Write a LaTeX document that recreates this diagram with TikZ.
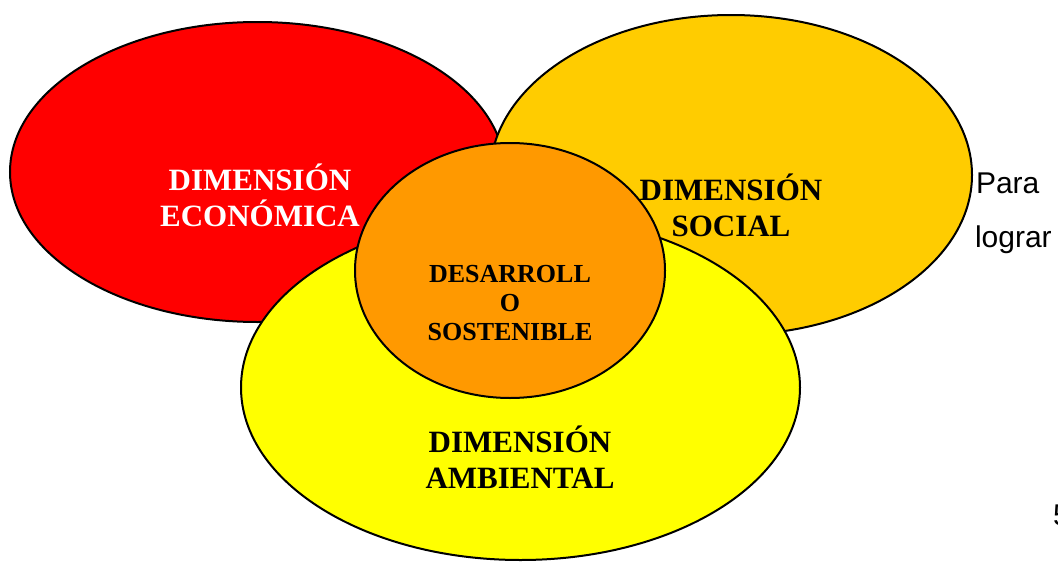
\documentclass[tikz,border=0pt]{standalone}
\usepackage{fontspec}
\setmainfont{Liberation Serif}
\newfontfamily\parafont{Liberation Sans}
\usepackage{xcolor}
\definecolor{rojo}{HTML}{FF0000}
\definecolor{ambar}{HTML}{FFCC00}
\definecolor{amarillo}{HTML}{FFFF00}
\definecolor{naranja}{HTML}{FF9900}

\begin{document}
\begin{tikzpicture}[x=1pt,y=-1pt,line width=2pt,
    dim/.style={align=center,anchor=base,inner sep=0pt,font=\fontsize{31}{36}\selectfont\bfseries},
    centro/.style={align=center,anchor=base,inner sep=0pt,font=\fontsize{26}{29}\selectfont\bfseries},
    txt/.style={anchor=base west,inner sep=0pt,font=\parafont\fontsize{30}{36}\selectfont}]
      \useasboundingbox (0,0) rectangle (1058,562);

      \filldraw [fill=rojo]     (257.5,172)   ellipse [x radius=247.5, y radius=150];
      \filldraw [fill=ambar]    (731,175)     ellipse [x radius=241,   y radius=160];
      \filldraw [fill=amarillo] (520.5,387.5) ellipse [x radius=279.5, y radius=172.5];
      \filldraw [fill=naranja]  (510,270.5)   ellipse [x radius=155,   y radius=127.5];

      \node [dim,text=white] (eco) at (260,226) {DIMENSIÓN\\ECONÓMICA};
      \node [dim] (soc) at (731,236) {DIMENSIÓN\\SOCIAL};
      \node [dim] (amb) at (520,488) {DIMENSIÓN\\AMBIENTAL};
      \node [centro] (ds) at (510,340) {DESARROLL\\O\\SOSTENIBLE};

      \node [txt] (para) at (975,193) {Para};
      \node [txt] (lograr) at (974,247) {lograr};
      \node [txt] (pag) at (1052,525) {5};
    \end{tikzpicture}
\end{document}
